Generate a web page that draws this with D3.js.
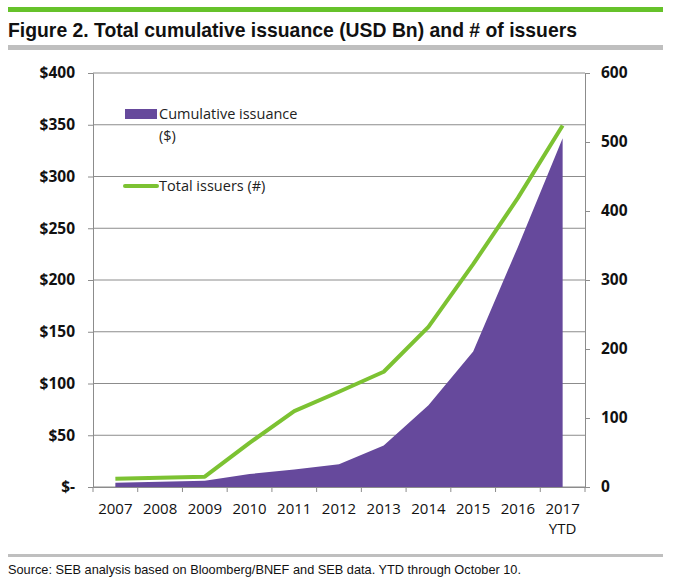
<!DOCTYPE html>
<html><head><meta charset="utf-8">
<script src="https://cdn.jsdelivr.net/npm/d3@7"></script>
<style>body{margin:0;background:#fff;}svg{display:block;}</style>
</head><body>
<svg id="c" width="690" height="588"></svg>
<script>
const years = ["2007","2008","2009","2010","2011","2012","2013","2014","2015","2016","2017"];
const issuance = [4, 5, 6, 12.5, 17, 22, 40, 79, 131, 232, 337];
const issuers = [12, 13.5, 15, 64, 110, 138, 167, 232, 323, 419, 524];
const leftTicks = [0,50,100,150,200,250,300,350,400];
const rightTicks = [0,100,200,300,400,500,600];

const svg = d3.select("#c");
const L = 93, R = 585, T = 73, B = 487;
const x = d3.scaleBand().domain(years).range([L, R]).padding(0);
const yL = d3.scaleLinear().domain([0, 400]).range([B, T]);
const yR = d3.scaleLinear().domain([0, 600]).range([B, T]);
const cx = d => x(d) + x.bandwidth() / 2;

// header bars & title
svg.append("rect").attr("x", 8).attr("y", 7).attr("width", 655).attr("height", 5).attr("fill", "#66c22a");
svg.append("text").attr("x", 8).attr("y", 37)
  .attr("font-family", "'Liberation Sans',Arial,sans-serif")
  .attr("font-weight", "bold").attr("font-size", 21).attr("fill", "#111")
  .attr("textLength", 569).attr("lengthAdjust", "spacingAndGlyphs")
  .text("Figure 2. Total cumulative issuance (USD Bn) and # of issuers");
svg.append("rect").attr("x", 8).attr("y", 45).attr("width", 655).attr("height", 5).attr("fill", "#bfbfbf");

// gridlines
svg.append("g").selectAll("line").data(leftTicks).join("line")
  .attr("x1", L).attr("x2", R).attr("y1", d => yL(d)).attr("y2", d => yL(d))
  .attr("stroke", "#8c8c8c").attr("stroke-width", 1);

// area
svg.append("path").datum(issuance)
  .attr("d", d3.area().x((d, i) => cx(years[i])).y0(yL(0)).y1(d => yL(d)))
  .attr("fill", "#66499c");

// line
svg.append("path").datum(issuers)
  .attr("d", d3.line().x((d, i) => cx(years[i])).y(d => yR(d)))
  .attr("fill", "none").attr("stroke", "#7cc232").attr("stroke-width", 4).attr("stroke-linejoin", "round");

// left axis
const axL = svg.append("g").attr("transform", `translate(${L},0)`)
  .call(d3.axisLeft(yL).tickValues(leftTicks).tickSize(5).tickPadding(13)
    .tickFormat(d => d === 0 ? "$-" : "$" + d));
axL.select(".domain").attr("stroke", "#8c8c8c");
axL.selectAll(".tick line").attr("stroke", "#8c8c8c");
axL.selectAll("text").attr("font-family", "'Open Sans',sans-serif").attr("font-weight", "bold")
  .attr("font-size", 15.5).attr("fill", "#111");

// right axis
const axR = svg.append("g").attr("transform", `translate(${R},0)`)
  .call(d3.axisRight(yR).tickValues(rightTicks).tickSize(5).tickPadding(11));
axR.select(".domain").attr("stroke", "#8c8c8c");
axR.selectAll(".tick line").attr("stroke", "#8c8c8c");
axR.selectAll("text").attr("font-family", "'Open Sans',sans-serif").attr("font-weight", "bold")
  .attr("font-size", 15.5).attr("fill", "#111");

// bottom axis
const axB = svg.append("g").attr("transform", `translate(0,${B})`)
  .call(d3.axisBottom(x).tickSize(0).tickFormat(""));
axB.select(".domain").attr("stroke", "#8c8c8c");
svg.append("g").selectAll("line").data(years.concat(["end"])).join("line")
  .attr("x1", (d, i) => i < years.length ? x(d) : R).attr("x2", (d, i) => i < years.length ? x(d) : R)
  .attr("y1", B).attr("y2", B + 5).attr("stroke", "#8c8c8c");
svg.append("g").selectAll("text").data(years).join("text")
  .attr("x", d => cx(d)).attr("y", 514).attr("text-anchor", "middle")
  .attr("font-family", "'Open Sans',sans-serif").attr("font-size", 15).attr("fill", "#111")
  .text(d => d);
svg.append("text").attr("x", cx("2017")).attr("y", 534).attr("text-anchor", "middle")
  .attr("font-family", "'Open Sans',sans-serif").attr("font-size", 15).attr("fill", "#111").text("YTD");

// legend
const lf = "'Open Sans',sans-serif";
svg.append("rect").attr("x", 125).attr("y", 109).attr("width", 32).attr("height", 10).attr("fill", "#66499c");
svg.append("text").attr("x", 159).attr("y", 119).attr("font-family", lf).attr("font-size", 14.5).attr("fill", "#222").text("Cumulative issuance");
svg.append("text").attr("x", 159).attr("y", 141).attr("font-family", lf).attr("font-size", 14.5).attr("fill", "#222").text("($)");
svg.append("line").attr("x1", 125).attr("x2", 157).attr("y1", 186).attr("y2", 186)
  .attr("stroke", "#7cc232").attr("stroke-width", 4).attr("stroke-linecap", "round");
svg.append("text").attr("x", 159).attr("y", 191).attr("font-family", lf).attr("font-size", 14.5).attr("fill", "#222").text("Total issuers (#)");

// source
svg.append("rect").attr("x", 8).attr("y", 554).attr("width", 655).attr("height", 3).attr("fill", "#bfbfbf");
svg.append("text").attr("x", 8).attr("y", 574)
  .attr("font-family", "'Liberation Sans',Arial,sans-serif")
  .attr("font-size", 13.5).attr("fill", "#111")
  .attr("textLength", 513).attr("lengthAdjust", "spacingAndGlyphs")
  .text("Source: SEB analysis based on Bloomberg/BNEF and SEB data. YTD through October 10.");
</script>
</body></html>
